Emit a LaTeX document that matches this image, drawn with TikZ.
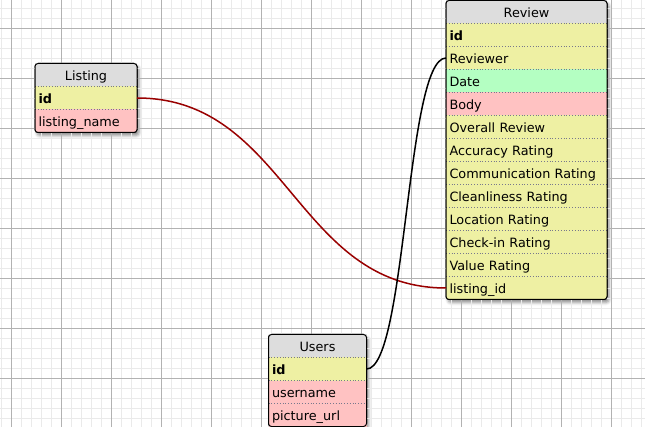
\documentclass[tikz,border=0pt]{standalone}
\usepackage{fontspec}
\setmainfont{DejaVu Sans}
\usepackage{tikz}
\usetikzlibrary{shadows,shadows.blur,positioning}
\pgfdeclarelayer{background}
\pgfsetlayers{background,main}
\definecolor{headgray}{RGB}{221,221,221}
\definecolor{keyyellow}{RGB}{238,240,163}
\definecolor{datagreen}{RGB}{180,255,194}
\definecolor{textpink}{RGB}{255,194,194}
\definecolor{sepgray}{RGB}{120,120,140}
\definecolor{minorgray}{RGB}{234,234,234}
\definecolor{majorgray}{RGB}{178,178,178}
\definecolor{fkred}{RGB}{153,0,0}
\tikzstyle{minorgrid} = [draw=minorgray, line width=1pt]
\tikzstyle{majorgrid} = [draw=majorgray, line width=1pt]
\tikzstyle{head} = [rectangle, fill=headgray, anchor=north west, minimum height=23pt,
    inner xsep=3.5pt, inner ysep=0pt, outer sep=0pt, text height=12.5pt, text depth=1.5pt,
    align=center, font=\fontsize{12.8}{15}\selectfont]
\tikzstyle{row} = [rectangle, minimum height=23pt, inner xsep=3.5pt, inner ysep=0pt,
    outer sep=0pt, text height=12.5pt, text depth=1.5pt, align=left,
    font=\fontsize{12.8}{15}\selectfont]
\tikzstyle{sep} = [draw=sepgray, dotted, line width=0.8pt]
\tikzstyle{frame} = [draw=black, line width=1pt, rounded corners=3pt]
\tikzstyle{shade} = [frame, fill=white, blur shadow={shadow xshift=2pt, shadow yshift=-3pt,
    shadow blur radius=3pt, shadow opacity=45}]
\tikzstyle{link} = [line width=1.5pt]

\begin{document}
\begin{tikzpicture}[x=1pt,y=-1pt]
    \useasboundingbox (0,0) rectangle (645,427);
    % grid
    \foreach \gx in {1.7,11.7,...,641.7} \draw[minorgrid] (\gx,0) -- (\gx,427);
    \foreach \gy in {8.3,18.3,...,418.3} \draw[minorgrid] (0,\gy) -- (645,\gy);
    \foreach \gx in {11.7,61.7,...,611.7} \draw[majorgrid] (\gx,0) -- (\gx,427);
    \foreach \gy in {28.3,78.3,...,378.3} \draw[majorgrid] (0,\gy) -- (645,\gy);

    % Listing
    \node[head, text width=95pt] (list0) at (35,63.5) {Listing};
    \node[row, text width=95pt, fill=keyyellow, below=0pt of list0] (listid) {\textbf{id}};
    \node[row, text width=95pt, fill=textpink, below=0pt of listid] (listname) {listing\_name};
    \draw[sep] (listid.north west) -- (listid.north east);
    \draw[sep] (listname.north west) -- (listname.north east);

    % Review
    \node[head, text width=154pt] (rev0) at (446,0.5) {Review};
    \foreach \lbl/\col [count=\i, remember=\i as \j (initially 0)] in
        {{\textbf{id}}/keyyellow, Reviewer/keyyellow, Date/datagreen, Body/textpink,
         Overall Review/keyyellow, Accuracy Rating/keyyellow, Communication Rating/keyyellow,
         Cleanliness Rating/keyyellow, Location Rating/keyyellow, Check-in Rating/keyyellow,
         Value Rating/keyyellow, listing\_id/keyyellow}
    {
        \node[row, text width=154pt, fill=\col, below=0pt of rev\j] (rev\i) {\lbl};
        \draw[sep] (rev\i.north west) -- (rev\i.north east);
    }

    % Users
    \node[head, text width=91pt] (user0) at (268.5,334.5) {Users};
    \node[row, text width=91pt, fill=keyyellow, below=0pt of user0] (userid) {\textbf{id}};
    \node[row, text width=91pt, fill=textpink, below=0pt of userid] (username) {username};
    \node[row, text width=91pt, fill=textpink, below=0pt of username] (userpic) {picture\_url};
    \draw[sep] (userid.north west) -- (userid.north east);
    \draw[sep] (username.north west) -- (username.north east);
    \draw[sep] (userpic.north west) -- (userpic.north east);

    % frames and shadows
    \begin{pgfonlayer}{background}
        \draw[shade] (list0.north west) rectangle (listname.south east);
        \draw[shade] (rev0.north west) rectangle (rev12.south east);
        \draw[shade] (user0.north west) rectangle (userpic.south east);
    \end{pgfonlayer}
    \draw[frame] (list0.north west) rectangle (listname.south east);
    \draw[frame] (rev0.north west) rectangle (rev12.south east);
    \draw[frame] (user0.north west) rectangle (userpic.south east);

    % relations
    \draw[link, fkred] (listid.east) .. controls +(150,0) and +(-150,0) .. (rev12.west);
    \draw[link, black] (userid.east) .. controls +(40,0) and +(-40,0) .. (rev2.west);
\end{tikzpicture}
\end{document}
